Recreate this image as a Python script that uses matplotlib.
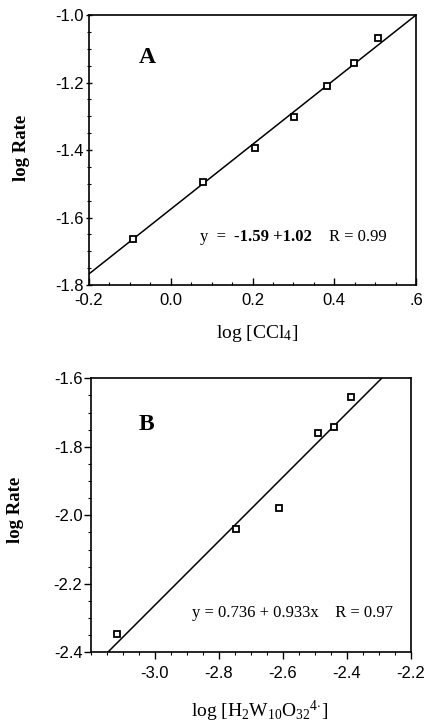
import numpy as np
import matplotlib
matplotlib.use("Agg")
import matplotlib.pyplot as plt
from matplotlib.ticker import MultipleLocator, FixedLocator, FixedFormatter

plt.rcParams['mathtext.fontset'] = 'custom'
plt.rcParams['mathtext.rm'] = 'Liberation Serif'
plt.rcParams['mathtext.it'] = 'Liberation Serif:italic'
plt.rcParams['mathtext.bf'] = 'Liberation Serif:bold'

SANS = 'Liberation Sans'
SERIF = 'Liberation Serif'

# --- panel A: log rate vs log [CCl4] ---
x_a = [-0.093, 0.080, 0.206, 0.301, 0.383, 0.448, 0.506]
y_a = [-1.665, -1.496, -1.395, -1.303, -1.209, -1.143, -1.069]
fit_x_a = [-0.2, 0.6]
fit_y_a = [-1.767, -1.0]
xticks_a = [-0.2, 0.0, 0.2, 0.4, 0.6]
xtick_labels_a = ['-0.2', '0.0', '0.2', '0.4', '.6']
yticks_a = [-1.8, -1.6, -1.4, -1.2, -1.0]
ytick_labels_a = ['-1.8', '-1.6', '-1.4', '-1.2', '-1.0']

# --- panel B: log rate vs log [H2W10O32 4-] ---
x_b = [-3.117, -2.746, -2.611, -2.489, -2.439, -2.387]
y_b = [-2.347, -2.041, -1.978, -1.759, -1.742, -1.655]
fit_x_b = [-3.147, -2.291]
fit_y_b = [-2.4, -1.6]
xticks_b = [-3.0, -2.8, -2.6, -2.4, -2.2]
xtick_labels_b = ['-3.0', '-2.8', '-2.6', '-2.4', '-2.2']
yticks_b = [-2.4, -2.2, -2.0, -1.8, -1.6]
ytick_labels_b = ['-2.4', '-2.2', '-2.0', '-1.8', '-1.6']

fig = plt.figure(figsize=(4.28, 7.26), dpi=100)
ax_a = fig.add_axes([0.208, 0.6074, 0.764, 0.3719])
ax_b = fig.add_axes([0.212, 0.1015, 0.7477, 0.3774])


def style_axes(ax, xticks, xlabels, yticks, ylabels, xdir, ydir, xpad):
    ax.xaxis.set_major_locator(FixedLocator(xticks))
    ax.xaxis.set_major_formatter(FixedFormatter(xlabels))
    ax.yaxis.set_major_locator(FixedLocator(yticks))
    ax.yaxis.set_major_formatter(FixedFormatter(ylabels))
    ax.xaxis.set_minor_locator(MultipleLocator(0.05))
    ax.yaxis.set_minor_locator(MultipleLocator(0.05))
    ax.tick_params(axis='x', which='major', direction=xdir, length=5, width=1.0,
                   labelsize=12, pad=xpad)
    ax.tick_params(axis='x', which='minor', direction=xdir, length=2.5, width=0.8)
    ax.tick_params(axis='y', which='major', direction=ydir, length=5, width=1.0,
                   labelsize=12, pad=1)
    ax.tick_params(axis='y', which='minor', direction=ydir, length=2.5, width=0.8)
    for lab in ax.get_xticklabels() + ax.get_yticklabels():
        lab.set_family(SANS)
    for sp in ax.spines.values():
        sp.set_linewidth(1.2)


# panel A
ax_a.plot(fit_x_a, fit_y_a, color='black', lw=1.1)
ax_a.plot(x_a, y_a, linestyle='none', marker='s', ms=4.5, mfc='white',
          mec='black', mew=1.3)
ax_a.set_xlim(-0.2, 0.6)
ax_a.set_ylim(-1.8, -1.0)
style_axes(ax_a, xticks_a, xtick_labels_a, yticks_a, ytick_labels_a,
           'in', 'inout', 6)
ax_a.text(0.177, 0.844, 'A', transform=ax_a.transAxes, family=SERIF,
          fontweight='bold', fontsize=17, ha='center', va='center')
t1 = ax_a.text(0.339, 0.178, 'y  = ', transform=ax_a.transAxes, family=SERIF,
               fontsize=12, ha='left', va='center')
t2 = ax_a.annotate('-1.59 +1.02', xy=(1, 0.5), xycoords=t1, xytext=(3, 0),
                   textcoords='offset points', family=SERIF, fontsize=12,
                   fontweight='bold', ha='left', va='center')
ax_a.annotate('R = 0.99', xy=(1, 0.5), xycoords=t2, xytext=(12, 0),
              textcoords='offset points', family=SERIF, fontsize=12,
              ha='left', va='center')

# panel B
ax_b.plot(fit_x_b, fit_y_b, color='black', lw=1.1)
ax_b.plot(x_b, y_b, linestyle='none', marker='s', ms=4.5, mfc='white',
          mec='black', mew=1.3)
ax_b.set_xlim(-3.2, -2.2)
ax_b.set_ylim(-2.4, -1.6)
style_axes(ax_b, xticks_b, xtick_labels_b, yticks_b, ytick_labels_b,
           'out', 'out', 5)
ax_b.text(0.173, 0.833, 'B', transform=ax_b.transAxes, family=SERIF,
          fontweight='bold', fontsize=17, ha='center', va='center')
ax_b.text(0.317, 0.1445, 'y = 0.736 + 0.933x    R = 0.97',
          transform=ax_b.transAxes, family=SERIF, fontsize=12,
          ha='left', va='center')

# axis titles
fig.text(22 / 428, 1 - 148 / 726, 'log Rate', family=SERIF, fontweight='bold',
         fontsize=13.5, rotation=90, ha='center', va='center')
fig.text(16 / 428, 1 - 510 / 726, 'log Rate', family=SERIF, fontweight='bold',
         fontsize=13.5, rotation=90, ha='center', va='center')
fig.text(257 / 428, 1 - 334 / 726, r'log [CCl$_4$]', family=SERIF,
         fontsize=14, ha='center', va='center')
fig.text(260 / 428, 2 / 726,
         r'log [H$_2$W$_{10}$O$_{32}$$^{4\mathrm{\cdot}}$]',
         family=SERIF, fontsize=14, ha='center', va='bottom')

fig.savefig('out.png', dpi=100)
